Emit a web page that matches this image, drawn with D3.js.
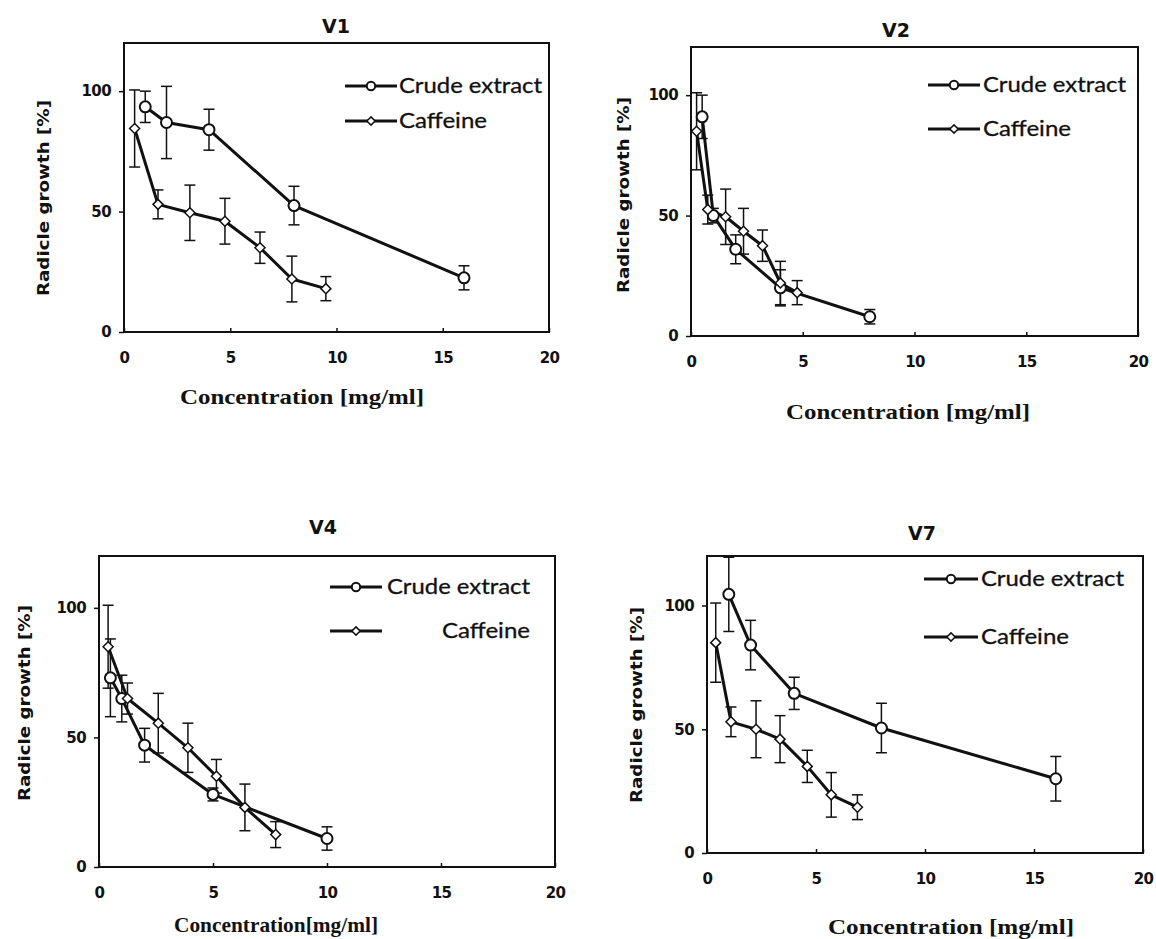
<!DOCTYPE html>
<html>
<head>
<meta charset="utf-8">
<script src="https://cdn.jsdelivr.net/npm/d3@7"></script>
<style>
  html, body { margin: 0; padding: 0; background: #fff; }
  svg { display: block; }
</style>
</head>
<body>
<svg id="chart" width="1156" height="939"></svg>
<script>
// ---------- data ----------
const panelTitles = ["V1", "V2", "V4", "V7"];
const seriesNames = ["Crude extract", "Caffeine"];
const xTickValues = [0, 5, 10, 15, 20];
const yTickValues = [0, 50, 100];
const xLabelText = "Concentration  [mg/ml]";
const xLabelTextV4 = "Concentration[mg/ml]";
const yLabelText = "Radicle  growth [%]";

// V1
const v1CrudeX = [1, 2, 4, 8, 16];
const v1CrudeY = [93.5, 87, 84, 52.5, 22.5];
const v1CrudeErr = [6.5, 15, 8.5, 8, 5];
const v1CafX = [0.5, 1.6, 3.1, 4.75, 6.4, 7.9, 9.5];
const v1CafY = [84.5, 53, 49.5, 46, 35, 22, 18];
const v1CafErr = [16, 6, 11.5, 9.5, 6.5, 9.5, 5];
// V2
const v2CrudeX = [0.5, 1, 2, 4, 8];
const v2CrudeY = [91, 50, 36, 20, 8];
const v2CrudeErr = [9, 3, 6, 7.5, 3];
const v2CafX = [0.25, 0.75, 1.55, 2.35, 3.2, 4, 4.75];
const v2CafY = [85, 52.5, 49.5, 43.5, 37.5, 22, 18];
const v2CafErr = [16, 6, 11.5, 9.5, 6.5, 9, 5];
// V4
const v4CrudeX = [0.5, 1, 2, 5, 10];
const v4CrudeY = [73, 65, 47, 28, 11];
const v4CrudeErr = [15, 9, 6.5, 2.5, 4.5];
const v4CafX = [0.4, 1.25, 2.6, 3.9, 5.15, 6.4, 7.75];
const v4CafY = [85, 65, 55.5, 46, 35, 23, 12.5];
const v4CafErr = [16, 6, 11.5, 9.5, 6.5, 9, 5];
// V7
const v7CrudeX = [1, 2, 4, 8, 16];
const v7CrudeY = [104.5, 84, 64.5, 50.5, 30];
const v7CrudeErr = [15, 10, 6.5, 10, 9];
const v7CafX = [0.4, 1.1, 2.25, 3.35, 4.6, 5.7, 6.9];
const v7CafY = [85, 53, 50, 46, 35, 23.5, 18.5];
const v7CafErr = [16, 6, 11.5, 9.5, 6.5, 9, 5];

function zipSeries(xs, ys, es) { return xs.map((x, i) => ({ x: x, y: ys[i], e: es[i] })); }

// ---------- layout ----------
const panels = [
  { title: panelTitles[0], frame: { l: 124, r: 549, t: 43, b: 332 }, titlePos: [336, 26],
    yLab: [43, 198], xLab: [302, 397], xLabW: 244, xText: xLabelText,
    leg: { x1: 345, x2: 397, tx: 399, y1: 86, y2: 121, cafTx: 399 },
    crude: zipSeries(v1CrudeX, v1CrudeY, v1CrudeErr), caf: zipSeries(v1CafX, v1CafY, v1CafErr) },
  { title: panelTitles[1], frame: { l: 691, r: 1138, t: 47, b: 336 }, titlePos: [896, 30],
    yLab: [623, 195], xLab: [908, 412], xLabW: 244, xText: xLabelText,
    leg: { x1: 928, x2: 980, tx: 983, y1: 85, y2: 129, cafTx: 983 },
    crude: zipSeries(v2CrudeX, v2CrudeY, v2CrudeErr), caf: zipSeries(v2CafX, v2CafY, v2CafErr) },
  { title: panelTitles[2], frame: { l: 99, r: 555, t: 556, b: 867 }, titlePos: [323, 527],
    yLab: [24, 703], xLab: [276, 925], xLabW: 204, xText: xLabelTextV4,
    leg: { x1: 330, x2: 382, tx: 387, y1: 587, y2: 631, cafTx: 442 },
    crude: zipSeries(v4CrudeX, v4CrudeY, v4CrudeErr), caf: zipSeries(v4CafX, v4CafY, v4CafErr) },
  { title: panelTitles[3], frame: { l: 707, r: 1143, t: 556, b: 853 }, titlePos: [922, 533],
    yLab: [636, 705], xLab: [951, 927], xLabW: 246, xText: xLabelText,
    leg: { x1: 924, x2: 978, tx: 981, y1: 579, y2: 637, cafTx: 981 },
    crude: zipSeries(v7CrudeX, v7CrudeY, v7CrudeErr), caf: zipSeries(v7CafX, v7CafY, v7CafErr) }
];

const svg = d3.select("#chart");
const ink = "#111";
// square-ish diamond (rotated square)
const diamondType = d3.symbolDiamond2 || {
  draw(context, size) {
    const r = Math.sqrt(size) * 0.62;
    context.moveTo(0, -r); context.lineTo(r, 0); context.lineTo(0, r); context.lineTo(-r, 0); context.closePath();
  }
};

function drawPanel(p) {
  const g = svg.append("g");
  const f = p.frame;
  const x = d3.scaleLinear().domain([0, 20]).range([f.l, f.r]);
  const y = d3.scaleLinear().domain([0, 120]).range([f.b, f.t]);

  // title
  g.append("text").attr("x", p.titlePos[0]).attr("y", p.titlePos[1]).attr("dy", "0.35em")
    .attr("text-anchor", "middle").attr("font-family", "DejaVu Sans").attr("font-weight", "bold")
    .attr("font-size", 19).attr("fill", ink).text(p.title);

  // axes
  const xAxis = g.append("g").attr("transform", `translate(0,${f.b})`)
    .call(d3.axisBottom(x).tickValues(xTickValues).tickSizeInner(-4).tickSizeOuter(0).tickFormat(d3.format("d")));
  xAxis.select(".domain").remove();
  xAxis.selectAll("line").attr("stroke", ink).attr("stroke-width", 1.5);
  xAxis.selectAll("text").attr("y", 26).attr("dy", "0.35em").attr("fill", ink)
    .attr("font-family", "DejaVu Sans").attr("font-weight", "bold").attr("font-size", 15)
    .attr("letter-spacing", "-0.6px");

  const yAxis = g.append("g").attr("transform", `translate(${f.l},0)`)
    .call(d3.axisLeft(y).tickValues(yTickValues).tickSizeInner(5).tickSizeOuter(0).tickPadding(8));
  yAxis.select(".domain").remove();
  yAxis.selectAll("line").attr("stroke", ink).attr("stroke-width", 1.5);
  yAxis.selectAll("text").attr("fill", ink)
    .attr("font-family", "DejaVu Sans").attr("font-weight", "bold").attr("font-size", 15)
    .attr("letter-spacing", "-0.6px");

  // frame
  g.append("rect").attr("x", f.l).attr("y", f.t).attr("width", f.r - f.l).attr("height", f.b - f.t)
    .attr("fill", "none").attr("stroke", ink).attr("stroke-width", 2);

  // axis labels
  g.append("text").attr("transform", `translate(${p.yLab[0]},${p.yLab[1]}) rotate(-90)`)
    .attr("text-anchor", "middle").attr("dy", "0.35em")
    .attr("font-family", "DejaVu Sans").attr("font-weight", "bold").attr("font-size", 16)
    .attr("textLength", 196).attr("lengthAdjust", "spacingAndGlyphs")
    .attr("fill", ink).text(yLabelText);
  g.append("text").attr("x", p.xLab[0]).attr("y", p.xLab[1]).attr("dy", "0.35em")
    .attr("text-anchor", "middle")
    .attr("font-family", "Liberation Serif").attr("font-weight", "bold").attr("font-size", 21)
    .attr("textLength", p.xLabW).attr("lengthAdjust", "spacingAndGlyphs")
    .attr("fill", ink).text(p.xText);

  // series
  const line = d3.line().x(d => x(d.x)).y(d => y(d.y));
  [p.crude, p.caf].forEach((data) => {
    const eb = g.append("g").attr("stroke", ink).attr("stroke-width", 1.5);
    data.forEach(d => {
      const cx = x(d.x), y1 = y(d.y + d.e), y2 = y(d.y - d.e);
      eb.append("line").attr("x1", cx).attr("x2", cx).attr("y1", y1).attr("y2", y2);
      eb.append("line").attr("x1", cx - 5.5).attr("x2", cx + 5.5).attr("y1", y1).attr("y2", y1);
      eb.append("line").attr("x1", cx - 5.5).attr("x2", cx + 5.5).attr("y1", y2).attr("y2", y2);
    });
  });
  [p.crude, p.caf].forEach((data) => {
    g.append("path").datum(data).attr("d", line).attr("fill", "none")
      .attr("stroke", ink).attr("stroke-width", 3).attr("stroke-linejoin", "round");
  });
  g.append("g").selectAll("circle").data(p.crude).join("circle")
    .attr("cx", d => x(d.x)).attr("cy", d => y(d.y)).attr("r", 5.5)
    .attr("fill", "#fff").attr("stroke", ink).attr("stroke-width", 2);
  g.append("g").selectAll("path").data(p.caf).join("path")
    .attr("transform", d => `translate(${x(d.x)},${y(d.y)})`)
    .attr("d", d3.symbol().type(diamondType).size(64))
    .attr("fill", "#fff").attr("stroke", ink).attr("stroke-width", 1.5);

  // legend
  const L = p.leg;
  const lg = g.append("g");
  lg.append("line").attr("x1", L.x1).attr("x2", L.x2).attr("y1", L.y1).attr("y2", L.y1)
    .attr("stroke", ink).attr("stroke-width", 3);
  lg.append("circle").attr("cx", (L.x1 + L.x2) / 2).attr("cy", L.y1).attr("r", 4.2)
    .attr("fill", "#fff").attr("stroke", ink).attr("stroke-width", 2);
  lg.append("text").attr("x", L.tx).attr("y", L.y1).attr("dy", "0.35em")
    .attr("font-family", "Lato").attr("font-size", 21).attr("fill", ink)
    .attr("stroke", ink).attr("stroke-width", 0.3)
    .attr("textLength", 143).attr("lengthAdjust", "spacingAndGlyphs").text(seriesNames[0]);
  lg.append("line").attr("x1", L.x1).attr("x2", L.x2).attr("y1", L.y2).attr("y2", L.y2)
    .attr("stroke", ink).attr("stroke-width", 3);
  lg.append("path").attr("transform", `translate(${(L.x1 + L.x2) / 2},${L.y2})`)
    .attr("d", d3.symbol().type(diamondType).size(44))
    .attr("fill", "#fff").attr("stroke", ink).attr("stroke-width", 1.5);
  lg.append("text").attr("x", L.cafTx).attr("y", L.y2).attr("dy", "0.35em")
    .attr("font-family", "Lato").attr("font-size", 21).attr("fill", ink)
    .attr("stroke", ink).attr("stroke-width", 0.3)
    .attr("textLength", 88).attr("lengthAdjust", "spacingAndGlyphs").text(seriesNames[1]);
}

panels.forEach(drawPanel);
</script>
</body>
</html>
